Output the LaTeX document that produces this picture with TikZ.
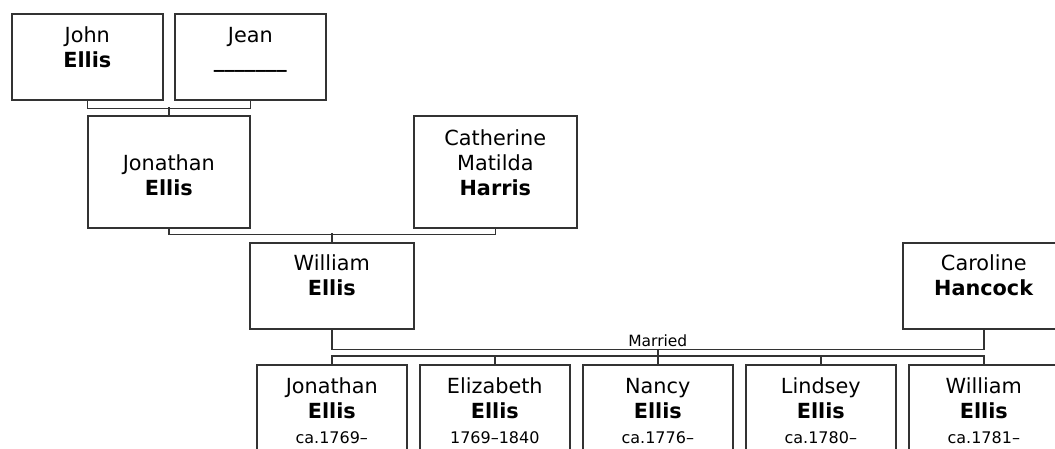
\documentclass[tikz,border=0pt]{standalone}
\usepackage{fontspec}
\setmainfont{DejaVu Sans}
\usetikzlibrary{positioning, calc}
\tikzset{
    box/.style={draw=black!80, line width=1.6pt, anchor=north west, inner sep=0pt, minimum height=86pt},
    who/.style={align=center, inner sep=0pt, font=\fontsize{20.8}{25}\selectfont},
    bar/.style={draw=black!80, line width=1.6pt}
}
\newcommand{\dates}[1]{{\fontsize{16}{20}\selectfont #1}}

\begin{document}
\begin{tikzpicture}[x=1pt, y=-1pt]
                \useasboundingbox (0,0) rectangle (1055,448);
                \node[box, minimum width=151pt] (john) at (11,13) {};
                \node[box, minimum width=151pt] (jean) at (174,13) {};
                \node[box, minimum width=162pt, minimum height=112pt] (jonathan) at (87,115) {};
                \node[box, minimum width=163pt, minimum height=112pt] (catherine) at (413,115) {};
                \node[box, minimum width=164pt] (william) at (249,242) {};
                \node[box, minimum width=162pt] (caroline) at (902,242) {};
                \node[box, minimum width=150pt, minimum height=100pt] (c1) at (256,364) {};
                \node[box, minimum width=150pt, minimum height=100pt] (c2) at (419,364) {};
                \node[box, minimum width=150pt, minimum height=100pt] (c3) at (582,364) {};
                \node[box, minimum width=150pt, minimum height=100pt] (c4) at (745,364) {};
                \node[box, minimum width=150pt, minimum height=100pt] (c5) at (908,364) {};
                \node[who, below=11.5pt of john.north] (johnT) {\strut John\\\textbf{Ellis}};
                \node[who, below=11.5pt of jean.north] (jeanT) {\strut Jean\\\textbf{\_\_\_\_\_\_\_}};
                \node[who, below=37.5pt of jonathan.north] (jonathanT) {\strut Jonathan\\\textbf{Ellis}};
                \node[who, below=12.5pt of catherine.north] (catherineT) {\strut Catherine\\Matilda\\\textbf{Harris}};
                \node[who, below=11pt of william.north] (williamT) {\strut William\\\textbf{Ellis}};
                \node[who, below=11pt of caroline.north] (carolineT) {\strut Caroline\\\textbf{Hancock}};
                \node[who, below=11.5pt of c1.north] (c1T) {\strut Jonathan\\\textbf{Ellis}\\\dates{ca.1769--}};
                \node[who, below=11.5pt of c2.north] (c2T) {\strut Elizabeth\\\textbf{Ellis}\\\dates{1769--1840}};
                \node[who, below=11.5pt of c3.north] (c3T) {\strut Nancy\\\textbf{Ellis}\\\dates{ca.1776--}};
                \node[who, below=11.5pt of c4.north] (c4T) {\strut Lindsey\\\textbf{Ellis}\\\dates{ca.1780--}};
                \node[who, below=11.5pt of c5.north] (c5T) {\strut William\\\textbf{Ellis}\\\dates{ca.1781--}};
                \draw[bar] (john.south) -- ++(0,8) -| (jean.south);
                \draw[bar] (jonathan.north) -- ++(0,-8);
                \draw[bar] (jonathan.south) -- ++(0,6) -| (catherine.south);
                \draw[bar] (william.north) -- ++(0,-9);
                \draw[bar] (william.south) -- ++(0,20) coordinate (wm) -- (wm -| caroline.south) -- (caroline.south);
                \coordinate (mc) at ($(wm)!0.5!(wm -| caroline.south)$);
                \node[anchor=base, yshift=3pt, inner sep=0pt, font=\fontsize{15.5}{18}\selectfont] (married) at (mc) {Married};
                \draw[bar] (mc) -- ++(0,8);
                \draw[bar] (c1.north) -- ++(0,-8) -| (c5.north);
                \foreach \c in {c2,c3,c4} \draw[bar] (\c.north) -- ++(0,-8);
            \end{tikzpicture}
\end{document}
